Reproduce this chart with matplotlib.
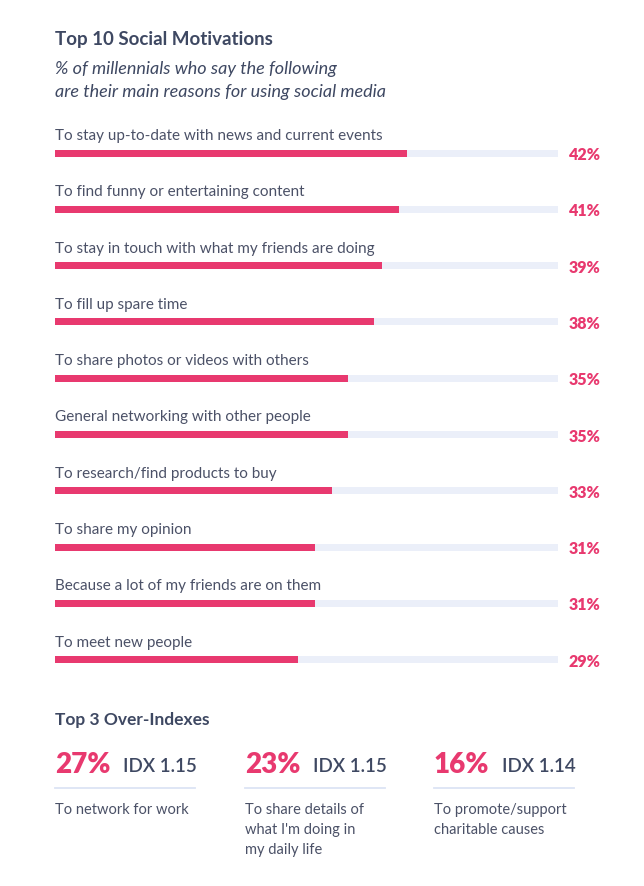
import matplotlib
matplotlib.use("Agg")
import matplotlib.pyplot as plt
from matplotlib.lines import Line2D

plt.rcParams["font.family"] = ["Lato", "DejaVu Sans"]

# ── data ─────────────────────────────────────────────────────────────────────
reasons = [
    "To stay up-to-date with news and current events",
    "To find funny or entertaining content",
    "To stay in touch with what my friends are doing",
    "To fill up spare time",
    "To share photos or videos with others",
    "General networking with other people",
    "To research/find products to buy",
    "To share my opinion",
    "Because a lot of my friends are on them",
    "To meet new people",
]
shares = [42, 41, 39, 38, 35, 35, 33, 31, 31, 29]
track_max = 60

over_pct = [27, 23, 16]
over_idx = [1.15, 1.15, 1.14]
over_text = [
    "To network for work",
    "To share details of\nwhat I'm doing in\nmy daily life",
    "To promote/support\ncharitable causes",
]

PINK = "#E8396F"
DARK = "#3E4862"
GREY = "#4B5167"
TRACK = "#EBEFF9"
RULE = "#DCE4F5"

W, H = 644, 886
fx = lambda px: px / W
fy = lambda py: 1 - py / H

fig = plt.figure(figsize=(W / 100, H / 100), dpi=100)
fig.patch.set_facecolor("white")

# header
fig.text(fx(55), fy(40), "Top 10 Social Motivations", fontsize=13.5, fontweight="bold",
         color=DARK, va="center", ha="left")
fig.text(fx(55), fy(69), "% of millennials who say the following", fontsize=13,
         style="italic", color=DARK, va="center", ha="left")
fig.text(fx(55), fy(92), "are their main reasons for using social media", fontsize=13,
         style="italic", color=DARK, va="center", ha="left")

# ── bar section ──────────────────────────────────────────────────────────────
row = 56.3
top = 153 - row / 2
bot = top + row * len(reasons)
ax = fig.add_axes([fx(55), fy(bot), fx(558) - fx(55), (bot - top) / H])
ypos = list(range(len(reasons)))
bh = 7 / row
ax.barh(ypos, [track_max] * len(reasons), height=bh, color=TRACK, zorder=1)
ax.barh(ypos, shares, height=bh, color=PINK, zorder=2)
for y, lab, v in zip(ypos, reasons, shares):
    ax.text(0, y - 17 / row, lab, fontsize=11, color=GREY, va="center", ha="left")
    ax.text(65.1, y + 2 / row, f"{v}%", fontsize=11.5, fontweight="heavy", color=PINK,
            va="center", ha="right", clip_on=False)
ax.set_xlim(0, track_max)
ax.set_ylim(len(reasons) - 0.5, -0.5)
ax.axis("off")

# ── over-indexes ─────────────────────────────────────────────────────────────
fig.text(fx(55), fy(720), "Top 3 Over-Indexes", fontsize=12.5, fontweight="bold",
         color=DARK, va="center", ha="left")
col_x = [55, 245, 434]
for x0, p, idx, txt in zip(col_x, over_pct, over_idx, over_text):
    fig.text(fx(x0), fy(765), f"{p}%", fontsize=20, fontweight="heavy", color=PINK,
             va="center", ha="left")
    fig.text(fx(x0 + 68), fy(766), f"IDX {idx:.2f}", fontsize=13.5, fontweight="semibold",
             color=DARK, va="center", ha="left")
    fig.add_artist(Line2D([fx(x0), fx(x0 + 140)], [fy(788), fy(788)], color=RULE, lw=1.3))
    fig.text(fx(x0), fy(803), txt, fontsize=10.5, color=GREY, va="top", ha="left",
             linespacing=1.55)

fig.savefig("out.png", dpi=100, facecolor="white")
